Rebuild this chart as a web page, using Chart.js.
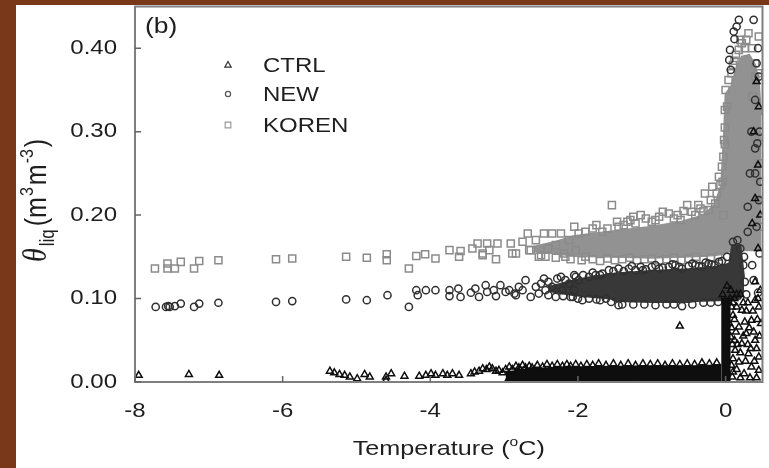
<!DOCTYPE html>
<html>
<head>
<meta charset="utf-8">
<script src="https://cdn.jsdelivr.net/npm/chart.js@4.4.1/dist/chart.umd.min.js"></script>
<style>
  html, body { margin: 0; padding: 0; }
  body { width: 769px; height: 468px; background: #7a381b; position: relative; overflow: hidden; }
  #panel { position: absolute; left: 16px; top: 5px; width: 753px; height: 463px; background: #ffffff; }
  #chart { position: absolute; left: 0; top: 0; }
</style>
</head>
<body>
<div id="panel"></div>
<canvas id="chart" width="769" height="468"></canvas>
<script>
// Liquid soil water vs. soil temperature for three freezing schemes.

const xTicks = [-8, -6, -4, -2, 0];
const yTicks = [0, 0.1, 0.2, 0.3, 0.4];
const seriesNames = ["CTRL", "NEW", "KOREN"];

// CTRL (triangles): [temperature, theta]
const ctrlPoints = [
  [-7.95, 0.008], [-7.27, 0.009], [-6.86, 0.008],
  [-5.36, 0.013], [-5.30, 0.011], [-5.23, 0.009], [-5.16, 0.008], [-5.09, 0.006], [-4.99, 0.004],
  [-4.89, 0.009], [-4.82, 0.006], [-4.60, 0.006], [-4.60, 0.002], [-4.53, 0.010], [-4.35, 0.007],
  [-4.15, 0.007], [-4.06, 0.008], [-3.99, 0.010], [-3.93, 0.008], [-3.83, 0.010], [-3.77, 0.008],
  [-3.70, 0.010], [-3.61, 0.008], [-3.45, 0.010], [-3.40, 0.012], [-3.34, 0.013], [-3.29, 0.016],
  [-3.24, 0.015], [-3.20, 0.018], [-3.16, 0.016], [-3.11, 0.013], [-3.07, 0.014], [-3.02, 0.011],
  [-2.98, 0.015],
  [-2.93, 0.018], [-2.89, 0.015], [-2.84, 0.019], [-2.80, 0.017], [-2.75, 0.020], [-2.71, 0.017],
  [-2.66, 0.019], [-2.62, 0.017], [-2.55, 0.020], [-2.48, 0.018], [-2.42, 0.021], [-2.35, 0.019],
  [-2.28, 0.021], [-2.21, 0.019], [-2.15, 0.021], [-2.10, 0.019], [-2.03, 0.021], [-1.96, 0.019],
  [-1.88, 0.021], [-1.80, 0.020], [-1.72, 0.022], [-1.62, 0.020], [-1.52, 0.022], [-1.42, 0.020],
  [-1.32, 0.022], [-1.22, 0.020], [-1.12, 0.022], [-1.02, 0.021], [-0.92, 0.022], [-0.82, 0.020],
  [-0.72, 0.022], [-0.62, 0.021], [-0.52, 0.022], [-0.42, 0.021], [-0.32, 0.023], [-0.22, 0.022],
  [-0.12, 0.023],
  [-2.95, 0.002], [-2.83, 0.001], [-2.71, 0.002], [-2.59, 0.001], [-2.47, 0.002], [-2.35, 0.001],
  [-2.23, 0.002], [-2.11, 0.001], [-1.99, 0.002], [-1.87, 0.001], [-1.75, 0.002], [-1.63, 0.001],
  [-1.51, 0.002], [-1.39, 0.001], [-1.27, 0.002], [-1.15, 0.001], [-1.03, 0.002], [-0.91, 0.001],
  [-0.79, 0.002], [-0.67, 0.001],
  [-0.62, 0.067],
  [0.05, 0.070], [0.07, 0.054], [0.09, 0.006], [0.13, 0.038], [0.18, 0.066], [0.18, 0.024],
  [0.22, 0.086], [0.22, 0.046], [0.25, 0.010], [0.28, 0.058], [0.31, 0.034], [0.35, 0.074],
  [0.35, 0.018], [0.40, 0.098], [0.40, 0.050], [0.45, 0.090], [0.45, 0.030], [0.45, 0.014],
  [0.08, 0.090], [0.10, 0.080], [0.12, 0.050], [0.15, 0.015], [0.10, 0.028], [0.26, 0.072],
  [0.30, 0.095], [0.38, 0.060], [0.42, 0.040], [0.48, 0.070], [0.47, 0.110], [0.40, 0.120],
  [0.44, 0.160], [0.36, 0.190], [0.40, 0.220], [0.44, 0.260], [0.38, 0.300], [0.42, 0.360],
  [0.45, 0.330], [0.47, 0.200], [0.06, 0.100], [0.07, 0.110], [-0.04, 0.105], [0.02, 0.115],
  [0.33, 0.005], [0.42, 0.005],
  [0.12, 0.100], [0.15, 0.090], [0.20, 0.105], [0.24, 0.095], [0.28, 0.085], [0.32, 0.065],
  [0.14, 0.060], [0.16, 0.045], [0.20, 0.035], [0.24, 0.055], [0.27, 0.025], [0.30, 0.045],
  [0.34, 0.040], [0.37, 0.085], [0.43, 0.075], [0.46, 0.055], [0.39, 0.025], [0.12, 0.075],
  [0.10, 0.012], [0.20, 0.005], [0.15, 0.105], [0.44, 0.100],
  [0.08, 0.020], [0.09, 0.045], [0.08, 0.065], [0.10, 0.095]
];
// solid core of the CTRL cloud, filled down to zero
const ctrlBandTemp = [-2.98, -2.7, -2.3, -1.8, -1.0, -0.4, -0.06];
const ctrlBandTop = [0.011, 0.015, 0.017, 0.018, 0.019, 0.019, 0.020];
const ctrlColumnTemp = [-0.06, 0.07];
const ctrlColumnTop = [0.100, 0.100];

// NEW (circles)
const newPoints = [
  [-7.72, 0.090], [-7.58, 0.090], [-7.55, 0.091], [-7.53, 0.090], [-7.46, 0.091], [-7.38, 0.094],
  [-7.20, 0.090], [-7.13, 0.094], [-6.87, 0.095], [-6.09, 0.096], [-5.87, 0.097], [-5.14, 0.099],
  [-4.86, 0.098], [-4.58, 0.104], [-4.29, 0.090], [-4.19, 0.110], [-4.17, 0.104], [-4.06, 0.110],
  [-3.93, 0.110], [-3.74, 0.110], [-3.74, 0.103], [-3.62, 0.112], [-3.59, 0.102], [-3.45, 0.107],
  [-3.39, 0.112], [-3.34, 0.102], [-3.25, 0.116], [-3.23, 0.108], [-3.14, 0.110], [-3.11, 0.103],
  [-3.05, 0.116], [-2.98, 0.108], [-2.93, 0.110], [-2.86, 0.106], [-2.84, 0.104], [-2.80, 0.114],
  [-2.75, 0.110], [-2.71, 0.122], [-2.64, 0.102], [-2.57, 0.114], [-2.53, 0.106], [-2.46, 0.124],
  [-2.44, 0.110], [-2.35, 0.114], [-2.30, 0.102], [-2.23, 0.126], [-2.21, 0.110], [-2.12, 0.118],
  [-2.10, 0.102], [-2.07, 0.102], [-2.05, 0.128], [-2.05, 0.110], [-2.03, 0.126], [-1.99, 0.122],
  [-1.94, 0.098],
  [-1.85, 0.126], [-1.76, 0.128], [-1.67, 0.130], [-1.58, 0.134], [-1.45, 0.136], [-1.38, 0.133],
  [-1.31, 0.136], [-1.22, 0.134], [-1.15, 0.138], [-1.08, 0.135], [-1.00, 0.138], [-0.90, 0.136],
  [-0.77, 0.138], [-0.68, 0.140], [-0.59, 0.136], [-0.50, 0.139], [-0.41, 0.140], [-0.32, 0.138],
  [-0.23, 0.142], [-0.15, 0.140], [-0.09, 0.144],
  [-2.50, 0.118], [-2.40, 0.120], [-2.28, 0.124], [-2.17, 0.122], [-1.93, 0.128], [-1.80, 0.131],
  [-1.70, 0.128], [-1.52, 0.133], [-1.27, 0.139], [-1.12, 0.134], [-0.95, 0.140], [-0.85, 0.137],
  [-0.72, 0.141], [-0.63, 0.138], [-0.45, 0.142], [-0.36, 0.139], [-0.27, 0.143], [-0.19, 0.141],
  [-0.05, 0.145], [0.02, 0.150],
  [-1.85, 0.100], [-1.75, 0.099], [-1.62, 0.100], [-1.40, 0.093], [-1.10, 0.093], [-0.80, 0.093],
  [-0.59, 0.091], [-0.30, 0.095],
  [-2.40, 0.104], [-2.20, 0.103], [-2.00, 0.100], [-1.70, 0.098], [-1.55, 0.096], [-1.45, 0.092],
  [-1.25, 0.093], [-0.95, 0.092], [-0.70, 0.093], [-0.45, 0.093], [-0.20, 0.095], [-0.10, 0.096],
  [0.10, 0.168], [0.16, 0.170], [0.20, 0.160], [0.24, 0.140], [0.26, 0.120], [0.28, 0.105],
  [0.18, 0.434], [0.15, 0.426], [0.11, 0.420], [0.12, 0.411], [0.06, 0.398], [0.05, 0.386],
  [0.07, 0.374], [0.38, 0.434], [0.45, 0.366], [0.42, 0.382], [0.40, 0.338], [0.46, 0.300],
  [0.43, 0.286], [0.40, 0.250], [0.45, 0.218], [0.42, 0.186], [0.46, 0.154], [0.38, 0.122],
  [0.44, 0.107], [0.35, 0.300], [0.33, 0.250], [0.30, 0.180], [0.36, 0.140], [0.25, 0.150],
  [0.47, 0.240], [0.40, 0.280], [0.44, 0.400], [0.30, 0.210]
];
const newCoreTemp = [-2.4, -2.05, -1.8, -1.55, -1.5, -1.0, -0.5, -0.4, -0.1, 0.05, 0.09, 0.2, 0.25];
const newCoreLow = [0.109, 0.104, 0.102, 0.100, 0.097, 0.096, 0.096, 0.097, 0.098, 0.098, 0.098, 0.100, 0.110];
const newCoreHigh = [0.114, 0.122, 0.126, 0.129, 0.130, 0.133, 0.135, 0.136, 0.138, 0.142, 0.164, 0.164, 0.125];

// KOREN (squares)
const korenPoints = [
  [-7.73, 0.136], [-7.56, 0.142], [-7.56, 0.136], [-7.46, 0.136], [-7.38, 0.144], [-7.20, 0.136],
  [-7.13, 0.145], [-6.87, 0.146], [-6.09, 0.147], [-5.87, 0.148], [-5.14, 0.150], [-4.86, 0.149],
  [-4.59, 0.146], [-4.59, 0.153], [-4.29, 0.136], [-4.19, 0.151], [-4.07, 0.153], [-3.93, 0.148],
  [-3.74, 0.158], [-3.61, 0.150], [-3.59, 0.157], [-3.43, 0.160], [-3.36, 0.166], [-3.29, 0.152],
  [-3.23, 0.166], [-3.20, 0.158], [-3.11, 0.147], [-3.09, 0.166], [-2.91, 0.166], [-2.89, 0.154],
  [-2.84, 0.154], [-2.75, 0.168], [-2.68, 0.178], [-2.66, 0.158], [-2.64, 0.158], [-2.57, 0.170],
  [-2.53, 0.150], [-2.46, 0.178], [-2.44, 0.150], [-2.41, 0.160], [-2.35, 0.178], [-2.30, 0.164],
  [-2.23, 0.178], [-2.19, 0.154], [-2.17, 0.150], [-2.12, 0.170], [-2.05, 0.186], [-2.03, 0.158],
  [-1.99, 0.178], [-3.29, 0.154],
  [-1.80, 0.184], [-1.67, 0.180], [-1.54, 0.212], [-1.47, 0.192], [-1.38, 0.188], [-1.29, 0.194],
  [-1.22, 0.190], [-1.15, 0.200], [-1.08, 0.196], [-1.00, 0.192], [-0.90, 0.198], [-0.77, 0.202],
  [-0.70, 0.196], [-0.61, 0.194], [-0.52, 0.212], [-0.46, 0.204], [-0.41, 0.200], [-0.34, 0.208],
  [-0.28, 0.226], [-0.23, 0.206], [-0.18, 0.234], [-0.14, 0.214], [-0.09, 0.246], [-0.05, 0.258],
  [-1.90, 0.180], [-1.75, 0.188], [-1.60, 0.184], [-1.45, 0.186], [-1.33, 0.192], [-1.25, 0.198],
  [-0.95, 0.194], [-0.85, 0.204], [-0.65, 0.200], [-0.57, 0.205], [-0.37, 0.212], [-0.30, 0.205],
  [-0.20, 0.218], [-0.12, 0.226], [-0.07, 0.236],
  [-1.90, 0.150], [-1.60, 0.148], [-1.30, 0.149], [-1.00, 0.148], [-0.70, 0.149], [-0.40, 0.150],
  [-2.50, 0.152], [-2.30, 0.149], [-2.10, 0.147], [-1.95, 0.146], [-1.80, 0.147], [-1.70, 0.145],
  [-1.50, 0.146], [-1.40, 0.147], [-1.20, 0.146], [-1.10, 0.147], [-0.90, 0.146], [-0.80, 0.147],
  [-0.60, 0.146], [-0.50, 0.148], [-0.30, 0.147], [-0.20, 0.149], [-0.10, 0.150],
  [-0.01, 0.326], [-0.01, 0.305], [-0.01, 0.285], [-0.03, 0.270], [0.00, 0.350], [0.04, 0.362],
  [0.08, 0.370], [0.12, 0.385], [0.18, 0.398], [0.22, 0.406], [0.31, 0.418], [0.45, 0.414],
  [0.40, 0.382], [0.40, 0.366], [0.45, 0.294], [0.45, 0.262], [0.36, 0.342], [0.40, 0.294],
  [0.47, 0.218], [0.49, 0.186], [0.26, 0.400], [0.14, 0.392],
  [-0.03, 0.200], [-0.04, 0.240], [-0.02, 0.290], [0.02, 0.330], [0.10, 0.380], [0.20, 0.410],
  [0.28, 0.410], [0.36, 0.400], [0.44, 0.370], [0.47, 0.300], [0.46, 0.240]
];
const korenCoreTemp = [-2.6, -2.3, -2.05, -1.5, -1.0, -0.6, -0.3, -0.15, -0.06, -0.02, 0.0, 0.08, 0.14, 0.22, 0.32, 0.40, 0.45, 0.48];
const korenCoreLow = [0.157, 0.154, 0.151, 0.150, 0.149, 0.150, 0.151, 0.152, 0.153, 0.154, 0.155, 0.157, 0.158, 0.158, 0.158, 0.158, 0.158, 0.158];
const korenCoreHigh = [0.162, 0.168, 0.175, 0.181, 0.186, 0.192, 0.200, 0.212, 0.235, 0.300, 0.345, 0.355, 0.375, 0.390, 0.392, 0.380, 0.360, 0.320];

const colors = {
  ctrl: "#0e0e0e",
  newer: "#303030",
  koren: "#8b8b8b",
  text: "#1e1e1e",
  frame: "#7f7f7f"
};

const FONT = "'Liberation Sans', Arial, sans-serif";
const SX = 1.2; // lettering in this figure is drawn a bit wide

function toXY(list) {
  return list.map(p => ({ x: p[0], y: p[1] }));
}
function zipXY(xs, ys) {
  return xs.map((x, i) => ({ x: x, y: ys[i] }));
}

function markers(label, list, style, radius, color) {
  return {
    label: label,
    data: toXY(list),
    pointStyle: style,
    pointRadius: radius,
    pointBorderWidth: 1.5,
    pointBorderColor: color,
    pointBackgroundColor: "rgba(0,0,0,0)",
    showLine: false
  };
}
function core(label, xs, ys, color, fill) {
  return {
    label: label,
    data: zipXY(xs, ys),
    showLine: true,
    pointRadius: 0,
    borderColor: color,
    borderWidth: 2,
    backgroundColor: color,
    fill: fill
  };
}

// stretched text helper
function wideText(ctx, text, x, y, font, align) {
  ctx.save();
  ctx.font = font;
  ctx.translate(x, y);
  ctx.scale(SX, 1);
  ctx.textAlign = align || "left";
  ctx.fillText(text, 0, 0);
  ctx.restore();
}

// axis box, inward ticks, labels, titles and legend
const framePlugin = {
  id: "frame",
  afterDraw(chart) {
    const ctx = chart.ctx;
    const a = chart.chartArea;
    const xs = chart.scales.x;
    const ys = chart.scales.y;
    ctx.save();

    ctx.strokeStyle = colors.frame;
    ctx.lineWidth = 2;
    ctx.strokeRect(a.left, a.top, a.right - a.left, a.bottom - a.top);

    ctx.lineWidth = 1.5;
    ctx.strokeStyle = "#666";
    ctx.beginPath();
    xTicks.forEach(v => {
      const px = xs.getPixelForValue(v);
      ctx.moveTo(px, a.bottom);
      ctx.lineTo(px, a.bottom - 6);
    });
    yTicks.forEach(v => {
      const py = ys.getPixelForValue(v);
      ctx.moveTo(a.left, py);
      ctx.lineTo(a.left + 6, py);
    });
    ctx.stroke();

    ctx.fillStyle = colors.text;
    ctx.textBaseline = "middle";
    yTicks.forEach(v => {
      wideText(ctx, v.toFixed(2), a.left - 18, ys.getPixelForValue(v), "20px " + FONT, "right");
    });
    xTicks.forEach(v => {
      wideText(ctx, String(v), xs.getPixelForValue(v), a.bottom + 29, "20px " + FONT, "center");
    });

    // x title: Temperature (°C) with raised o
    ctx.textBaseline = "alphabetic";
    const mainF = "21px " + FONT;
    const supF = "13px " + FONT;
    ctx.font = mainF;
    const w1 = ctx.measureText("Temperature (").width * SX;
    const w3 = ctx.measureText("C)").width * SX;
    ctx.font = supF;
    const w2 = ctx.measureText("o").width * SX;
    let tx = (a.left + a.right) / 2 - (w1 + w2 + w3) / 2;
    const ty = 455;
    wideText(ctx, "Temperature (", tx, ty, mainF);
    tx += w1;
    wideText(ctx, "o", tx, ty - 9, supF);
    tx += w2;
    wideText(ctx, "C)", tx, ty, mainF);

    // y title: theta_liq (m^3 m^-3), reading upward
    ctx.save();
    ctx.translate(46, 262);
    ctx.rotate(-Math.PI / 2);
    ctx.scale(1, SX);
    const parts = [
      ["\u03b8", "italic 28px 'Liberation Serif', serif", 0, 2],
      ["liq", "17px " + FONT, 7, 3],
      ["(m", "25px " + FONT, 0, 1],
      ["3", "16px " + FONT, -11, 2],
      ["m", "25px " + FONT, 0, 1],
      ["-3", "16px " + FONT, -11, 2],
      [")", "25px " + FONT, 0, 0]
    ];
    let px = 0;
    parts.forEach(p => {
      ctx.font = p[1];
      ctx.fillText(p[0], px, p[2]);
      px += ctx.measureText(p[0]).width + p[3];
    });
    ctx.restore();

    // panel tag
    wideText(ctx, "(b)", a.left + 10, 33, "22px " + FONT);

    // legend
    const legendY = [65, 94, 125];
    const legendColors = ["#333", "#555", "#9a9a9a"];
    ctx.lineWidth = 1.2;
    legendY.forEach((ly, i) => {
      const lx = 228;
      ctx.strokeStyle = legendColors[i];
      ctx.beginPath();
      if (i === 0) {
        ctx.moveTo(lx, ly - 3.5);
        ctx.lineTo(lx + 3.2, ly + 2.2);
        ctx.lineTo(lx - 3.2, ly + 2.2);
        ctx.closePath();
      } else if (i === 1) {
        ctx.arc(lx, ly, 2.6, 0, Math.PI * 2);
      } else {
        ctx.rect(lx - 2.8, ly - 2.8, 5.6, 5.6);
      }
      ctx.stroke();
      ctx.fillStyle = colors.text;
      ctx.textBaseline = "middle";
      wideText(ctx, seriesNames[i], 263, ly + 1, "20px " + FONT);
    });

    ctx.restore();
  }
};

const datasets = [
  markers("CTRL", ctrlPoints, "triangle", 4, colors.ctrl),
  core("CTRL core", ctrlBandTemp, ctrlBandTop, colors.ctrl, "origin"),
  core("CTRL column", ctrlColumnTemp, ctrlColumnTop, colors.ctrl, "origin"),
  markers("NEW", newPoints, "circle", 3.6, colors.newer),
  core("NEW low", newCoreTemp, newCoreLow, "#383838", false),
  core("NEW high", newCoreTemp, newCoreHigh, "#383838", "-1"),
  markers("KOREN", korenPoints, "rect", 5, colors.koren),
  core("KOREN low", korenCoreTemp, korenCoreLow, "#929292", false),
  core("KOREN high", korenCoreTemp, korenCoreHigh, "#929292", "-1")
];

new Chart(document.getElementById("chart"), {
  type: "scatter",
  data: { datasets: datasets },
  options: {
    responsive: false,
    animation: false,
    events: [],
    layout: { padding: { top: 6, right: 4, left: 0, bottom: 0 } },
    plugins: {
      legend: { display: false },
      tooltip: { enabled: false }
    },
    scales: {
      x: {
        type: "linear",
        min: -8,
        max: 0.5,
        grid: { display: false },
        border: { display: false },
        ticks: { display: false },
        afterFit: function(scale) { scale.height = 86; }
      },
      y: {
        type: "linear",
        min: 0,
        max: 0.45,
        grid: { display: false },
        border: { display: false },
        ticks: { display: false },
        afterFit: function(scale) { scale.width = 135; }
      }
    }
  },
  plugins: [framePlugin]
});
</script>
</body>
</html>
